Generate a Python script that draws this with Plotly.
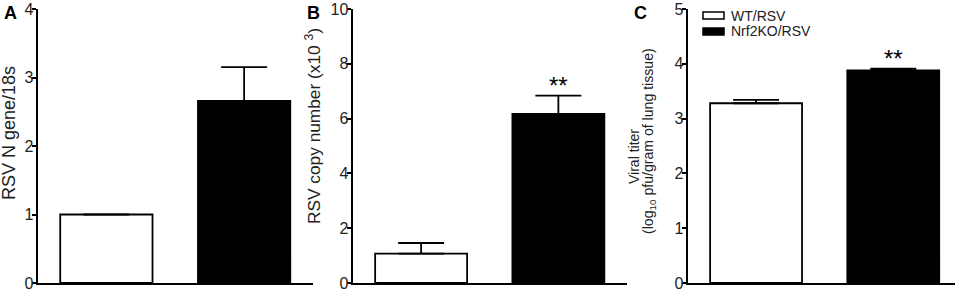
import plotly.graph_objects as go

# ---- data ----
groups = ["WT/RSV", "Nrf2KO/RSV"]
bar_colors = ["white", "black"]

a_vals = [1.0, 2.66]
a_err = [0.0, 0.49]
b_vals = [1.07, 6.17]
b_err = [0.39, 0.67]
c_vals = [3.28, 3.88]
c_err = [0.06, 0.03]
sig_b = ["", "**"]
sig_c = ["", "**"]

a_ticks = [0, 1, 2, 3, 4]
b_ticks = [0, 2, 4, 6, 8, 10]
c_ticks = [0, 1, 2, 3, 4, 5]

W, H = 965, 291
ML, MR, MT, MB = 0, 0, 9, 8
FONT = "Liberation Sans, Arial, sans-serif"


def px_x(p):
    return (p - ML) / (W - ML - MR)


def px_y(p):
    return (H - MB - p) / (H - MT - MB)


fig = go.Figure()

panels = [
    (a_vals, a_err, "x", "y"),
    (b_vals, b_err, "x2", "y2"),
    (c_vals, c_err, "x3", "y3"),
]
for vals, err, xa, ya in panels:
    fig.add_trace(go.Bar(
        x=groups, y=vals, xaxis=xa, yaxis=ya, width=0.67,
        marker=dict(color=bar_colors, line=dict(color="black", width=1.8)),
        error_y=dict(type="data", symmetric=False, array=err,
                     arrayminus=[0] * len(err), color="black",
                     thickness=1.8, width=23),
        showlegend=False, hoverinfo="skip",
    ))

axis_common = dict(showline=True, linecolor="black", linewidth=2,
                   showgrid=False, zeroline=False)
xcommon = dict(axis_common, type="category", showticklabels=False, ticks="")
ycommon = dict(axis_common, ticks="outside", ticklen=4, tickwidth=2,
               tickcolor="black", ticklabeloverflow="allow",
               ticklabelstandoff=-5,
               tickfont=dict(family=FONT, size=16, color="#222"))

fig.update_layout(
    width=W, height=H,
    margin=dict(l=ML, r=MR, t=MT, b=MB),
    plot_bgcolor="white", paper_bgcolor="white",
    bargap=0.33,
    xaxis=dict(xcommon, domain=[px_x(37.5), px_x(313)], range=[-0.5, 1.5], anchor="y"),
    xaxis2=dict(xcommon, domain=[px_x(352.5), px_x(627)], range=[-0.5, 1.5], anchor="y2"),
    xaxis3=dict(xcommon, domain=[px_x(687.5), px_x(955)], range=[-0.5, 1.45], anchor="y3"),
    yaxis=dict(ycommon, range=[0, 4], tickvals=a_ticks, anchor="x"),
    yaxis2=dict(ycommon, range=[0, 10], tickvals=b_ticks, anchor="x2"),
    yaxis3=dict(ycommon, range=[0, 5], tickvals=c_ticks, anchor="x3"),
)

ann = []
# significance stars
for xa, ya, vals, err, sig in [("x2", "y2", b_vals, b_err, sig_b),
                               ("x3", "y3", c_vals, c_err, sig_c)]:
    for g, v, e, s in zip(groups, vals, err, sig):
        if s:
            ann.append(dict(x=g, y=v + e, xref=xa, yref=ya, text=s,
                            showarrow=False, xanchor="center", yanchor="middle",
                            yshift=10, font=dict(family=FONT, size=24, color="black")))

# panel letters
for letter, x in [("A", 10), ("B", 313.5), ("C", 640.5)]:
    ann.append(dict(x=px_x(x), y=px_y(13.5), xref="paper", yref="paper",
                    text="<b>%s</b>" % letter, showarrow=False,
                    xanchor="center", yanchor="middle",
                    font=dict(family=FONT, size=18, color="black")))

# y-axis titles (x center px, y px of anchor, anchor, font size)
titles = [
    ("RSV N gene/18s", 9, 202, "bottom", 18),
    ("RSV copy number (x10 <sup>3</sup>)", 313, 226, "bottom", 17.3),
    ("Viral titer", 634, 157, "middle", 14),
    ("(log<sub>10</sub> pfu/gram of lung tissue)", 649, 236, "bottom", 14.1),
]
for t, x, y, ya, fs in titles:
    ann.append(dict(x=px_x(x), y=px_y(y), xref="paper", yref="paper",
                    text=t, textangle=-90, showarrow=False,
                    xanchor="center", yanchor=ya,
                    font=dict(family=FONT, size=fs, color="#222")))

# legend
shapes = []
leg_y = [(12, 19), (28, 35)]
for g, c, (y0, y1) in zip(groups, bar_colors, leg_y):
    shapes.append(dict(type="rect", xref="paper", yref="paper",
                       x0=px_x(703), x1=px_x(724), y0=px_y(y1), y1=px_y(y0),
                       fillcolor=c, line=dict(color="black", width=1.5)))
    ann.append(dict(x=px_x(729), y=px_y((y0 + y1) / 2), xref="paper", yref="paper",
                    text=g, showarrow=False, xanchor="left", yanchor="middle",
                    font=dict(family=FONT, size=14, color="#222")))

fig.update_layout(annotations=ann, shapes=shapes)
fig.write_html("out.html", config={"displayModeBar": False},
               post_script="document.body.style.margin='0';document.body.style.overflow='hidden';")
